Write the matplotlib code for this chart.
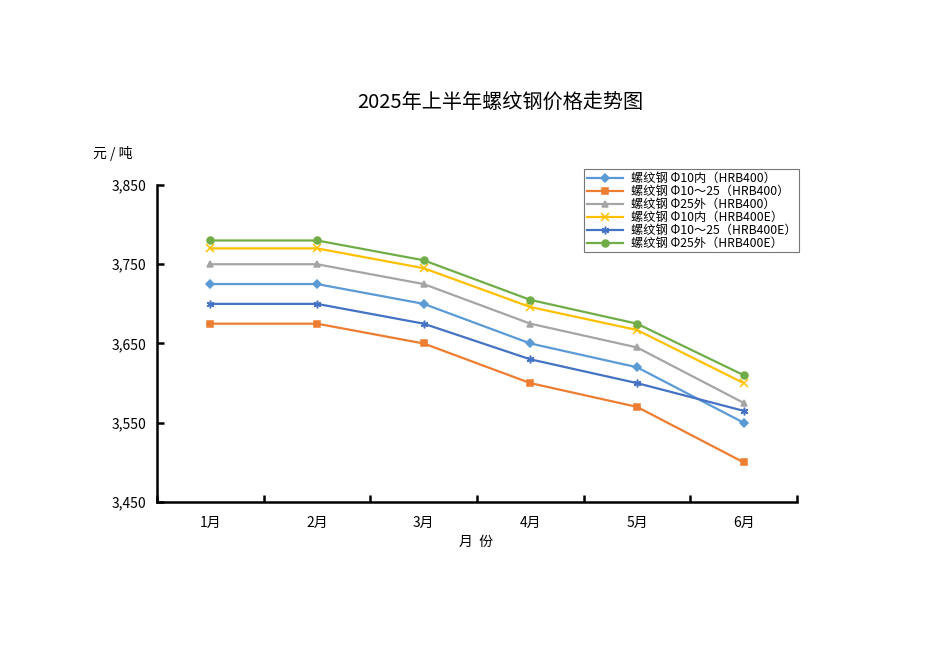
import matplotlib
matplotlib.use("Agg")
import matplotlib.pyplot as plt
from matplotlib.ticker import FuncFormatter, FixedLocator

plt.rcParams['font.family'] = ['Noto Sans CJK SC', 'DejaVu Sans']

# data
months = ["1月", "2月", "3月", "4月", "5月", "6月"]
labels = [
    "螺纹钢 Φ10内（HRB400）",
    "螺纹钢 Φ10～25（HRB400）",
    "螺纹钢 Φ25外（HRB400）",
    "螺纹钢 Φ10内（HRB400E）",
    "螺纹钢 Φ10～25（HRB400E）",
    "螺纹钢 Φ25外（HRB400E）",
]
p_10_400 = [3725, 3725, 3700, 3650, 3620, 3550]
p_10_25_400 = [3675, 3675, 3650, 3600, 3570, 3500]
p_25_400 = [3750, 3750, 3725, 3675, 3645, 3575]
p_10_400e = [3770, 3770, 3745, 3696, 3667, 3600]
p_10_25_400e = [3700, 3700, 3675, 3630, 3600, 3565]
p_25_400e = [3780, 3780, 3755, 3705, 3675, 3610]

series = [p_10_400, p_10_25_400, p_25_400, p_10_400e, p_10_25_400e, p_25_400e]
colors = ["#5B9BD5", "#ED7D31", "#A5A5A5", "#FFC000", "#4472C4", "#70AD47"]
markers = ["D", "s", "^", "x", (6, 2, 0), "o"]
msizes = [3.8, 5, 5, 5.5, 5.5, 5]

fig = plt.figure(figsize=(9.5, 6.72), dpi=100)
ax = fig.add_axes([0.1653, 0.253, 0.6737, 0.4717])

x = list(range(len(months)))
for vals, c, m, ms, lab in zip(series, colors, markers, msizes, labels):
    ax.plot(x, vals, color=c, marker=m, markersize=ms, linewidth=1.6,
            markeredgewidth=1.1, label=lab)

ax.set_xlim(-0.5, len(months) - 0.5)
ax.set_ylim(3450, 3850)
ax.set_yticks([3450, 3550, 3650, 3750, 3850])
ax.yaxis.set_major_formatter(FuncFormatter(lambda v, p: f"{int(v):,}"))
ax.set_xticks(x)
ax.set_xticklabels(months)
ax.xaxis.set_minor_locator(FixedLocator([i - 0.5 for i in range(len(months) + 1)]))

for s in ["top", "right"]:
    ax.spines[s].set_visible(False)
for s in ["left", "bottom"]:
    ax.spines[s].set_linewidth(1.8)

ax.tick_params(axis="x", which="major", length=0, labelsize=10, pad=10)
ax.tick_params(axis="x", which="minor", direction="in", length=5, width=1.8)
ax.tick_params(axis="y", direction="in", length=5, width=1.8, labelsize=10, pad=8)

fig.text(0.527, 0.848, "2025年上半年螺纹钢价格走势图", ha="center", va="center", fontsize=14.5)
fig.text(0.098, 0.772, "元 / 吨", ha="left", va="center", fontsize=10)
fig.text(0.501, 0.193, "月  份", ha="center", va="center", fontsize=10)

leg = fig.legend(loc="upper left", bbox_to_anchor=(0.615, 0.748), fontsize=8.8,
                 frameon=True, fancybox=False, edgecolor="#555555",
                 handlelength=3.0, labelspacing=0.0, borderpad=0.2,
                 handletextpad=0.6, borderaxespad=0)
leg.get_frame().set_linewidth(0.8)

fig.savefig("out.png", dpi=100)
